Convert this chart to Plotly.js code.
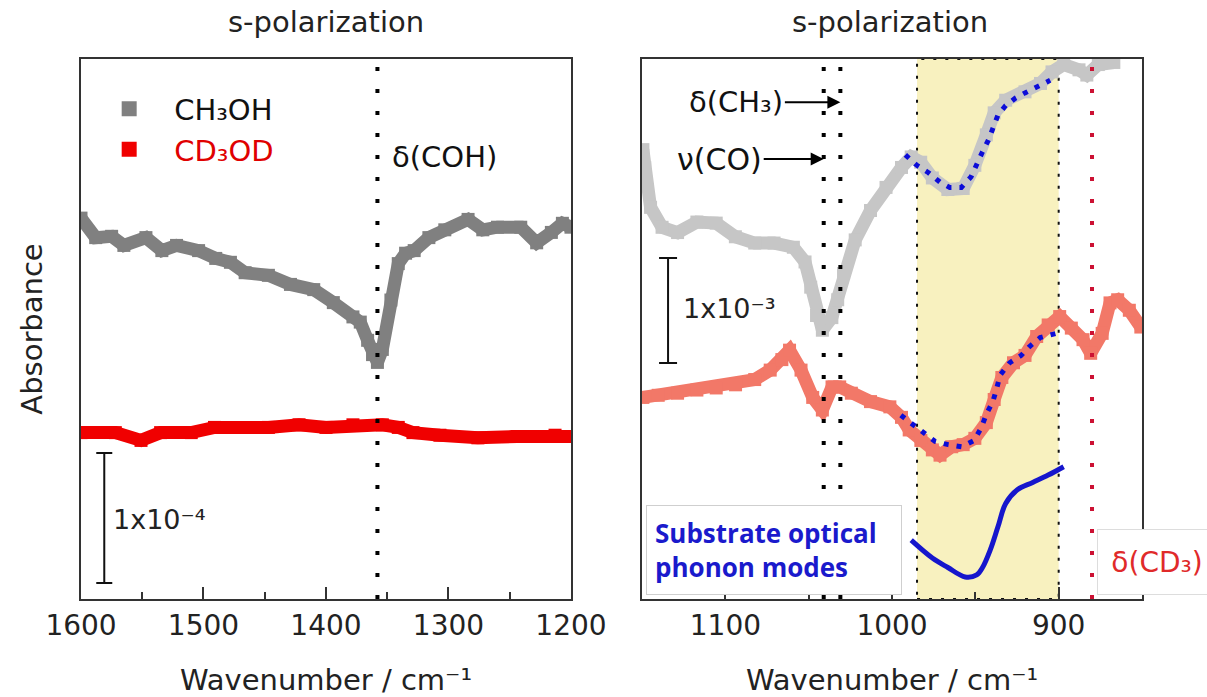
<!DOCTYPE html>
<html><head><meta charset="utf-8">
<script src="https://cdn.plot.ly/plotly-3.0.1.min.js"></script>
<style>html,body{margin:0;padding:0;background:#fff}#chart{width:1207px;height:697px}</style>
</head><body><div id="chart"></div>
<script>
// ---------- data (absorbance in units of 1e-4 for left panel, 1e-3 for right panel; offsets arbitrary) ----------
const leftCH3OHWn = [1600,1588,1575,1565,1547,1534,1522,1504,1490,1478,1466,1447,1429,1410,1394,1378,1372,1366,1362,1358,1354,1347,1341,1335,1328,1316,1303,1284,1272,1260,1241,1228,1216,1207,1200];
const leftCH3OH   = [2.93,2.78,2.79,2.72,2.78,2.68,2.72,2.68,2.62,2.59,2.51,2.49,2.42,2.38,2.28,2.17,2.13,1.99,1.88,1.82,1.92,2.30,2.58,2.66,2.68,2.78,2.84,2.92,2.84,2.86,2.86,2.74,2.82,2.89,2.86];
const leftCD3ODWn = [1600,1572,1551,1535,1510,1491,1447,1422,1400,1378,1354,1341,1329,1307,1276,1244,1213,1200];
const leftCD3OD   = [1.28,1.28,1.22,1.28,1.28,1.32,1.32,1.34,1.32,1.34,1.34,1.32,1.28,1.26,1.24,1.25,1.26,1.25];

const rightCH3OHWn = [1149.5,1148.4,1144.9,1138,1128.7,1117.1,1105.5,1094,1082.4,1070.8,1059.2,1052.2,1048.8,1045.3,1041.8,1036.1,1032.6,1029.1,1022.1,1012.9,1003.6,994.3,988.5,982.8,975.8,966.5,957.3,950.3,943.4,938.7,931.8,920.2,910.9,904,897,887.8,883.1,876.2,866.9];
const rightCH3OH   = [4.28,4.11,3.73,3.54,3.49,3.59,3.58,3.45,3.39,3.39,3.35,3.21,2.97,2.70,2.56,2.68,2.85,3.10,3.42,3.70,3.92,4.11,4.21,4.16,4.01,3.90,3.91,4.13,4.42,4.63,4.75,4.83,4.91,5.02,5.09,5.04,4.99,5.09,5.11];
const rightCD3ODWn = [1149.5,1140.3,1128.7,1117.1,1105.5,1093.9,1082.4,1073.1,1066.1,1061.5,1054.6,1047.6,1041.8,1036,1031.4,1024.4,1012.9,1001.3,994.3,989.7,982.7,975.8,971.2,964.2,957.3,950.3,943.4,938.7,934.1,927.1,920.2,913.2,906.3,899.4,892.4,885.4,880.8,873.9,869.2,864.6,857.6,850.7];
const rightCD3OD   = [1.92,1.94,1.96,1.99,2.01,2.04,2.09,2.18,2.28,2.37,2.18,1.92,1.80,2.02,2.02,1.96,1.88,1.83,1.73,1.61,1.51,1.42,1.37,1.45,1.47,1.53,1.68,1.90,2.11,2.25,2.32,2.50,2.61,2.69,2.58,2.47,2.34,2.53,2.82,2.85,2.75,2.59];

const fitCH3OHWn = [992.0,985.1,978.1,971.2,965.4,958.4,952.6,949.2,945.7,942.2,939.9,936.4,931.8,926.0,920.2,910.9,905.1];
const fitCH3OH   = [4.23,4.13,4.06,3.97,3.92,3.92,4.02,4.15,4.26,4.37,4.48,4.61,4.70,4.77,4.82,4.90,4.94];
const fitCD3ODWn = [994.7,988.1,981.5,974.1,966.3,958.1,950.7,946.5,943.1,939.5,937.1,935.2,929.4,922.5,917.8,911.1,901.5];
const fitCD3OD   = [1.75,1.67,1.58,1.50,1.47,1.45,1.51,1.63,1.77,1.88,2.01,2.13,2.25,2.32,2.40,2.49,2.53];

const phononWn = [988.5,975.8,966.5,956.1,949.2,945.7,941.0,936.4,931.8,924.8,915.6,906.3,897.0];
const phonon   = [0.56,0.39,0.30,0.21,0.23,0.30,0.47,0.69,0.91,1.04,1.11,1.18,1.26];

// band / mode positions (cm-1)
const modeCOH = 1358, modeCO = 1041, modeCH3 = 1031, modeCD3 = 880;
const phononBand = [985, 900];
// scale bars: [wavenumber, centre value, half-length]
const scaleLeft = [1581, 0.623, 0.5];   // 1x10^-4
const scaleRight = [1134.4, 2.748, 0.5]; // 1x10^-3

// ---------- styles ----------
const F = 'DejaVu Sans, Arial, sans-serif';
const grayL = '#808080', redL = '#f00000', grayR = '#c6c6c6', redR = '#f27868';
const blueDot = '#0c0cd8', blueSolid = '#1616cc';

function band(x, y, color, xa, ya, name) {
  return {x: x, y: y, xaxis: xa, yaxis: ya, mode: 'lines+markers', name: name, showlegend: false,
    line: {color: color, width: 13}, marker: {symbol: 'square', size: 13, color: color}, hoverinfo: 'skip'};
}

const data = [
  {x: [null], y: [null], xaxis: 'x', yaxis: 'y', mode: 'markers', name: 'CH₃OH',
   marker: {symbol: 'square', size: 15, color: grayL}},
  {x: [null], y: [null], xaxis: 'x', yaxis: 'y', mode: 'markers', name: '<span style="color:#e00000">CD₃OD</span>',
   marker: {symbol: 'square', size: 15, color: redL}},
  band(leftCH3OHWn, leftCH3OH, grayL, 'x', 'y', 'CH3OH'),
  band(leftCD3ODWn, leftCD3OD, redL, 'x', 'y', 'CD3OD'),
  band(rightCH3OHWn, rightCH3OH, grayR, 'x2', 'y2', 'CH3OH'),
  band(rightCD3ODWn, rightCD3OD, redR, 'x2', 'y2', 'CD3OD'),
  {x: fitCH3OHWn, y: fitCH3OH, xaxis: 'x2', yaxis: 'y2', mode: 'lines', showlegend: false, hoverinfo: 'skip',
   line: {color: blueDot, width: 5, dash: '5px,8px'}},
  {x: fitCD3ODWn, y: fitCD3OD, xaxis: 'x2', yaxis: 'y2', mode: 'lines', showlegend: false, hoverinfo: 'skip',
   line: {color: blueDot, width: 5, dash: '5px,8px'}},
  {x: phononWn, y: phonon, xaxis: 'x2', yaxis: 'y2', mode: 'lines', showlegend: false, hoverinfo: 'skip',
   line: {color: blueSolid, width: 5, shape: 'spline'}},
  {x: [scaleLeft[0]], y: [scaleLeft[1]], xaxis: 'x', yaxis: 'y', mode: 'markers', showlegend: false, hoverinfo: 'skip',
   marker: {color: 'rgba(0,0,0,0)', size: 1},
   error_y: {type: 'data', array: [scaleLeft[2]], symmetric: true, color: '#111', thickness: 2, width: 8}},
  {x: [scaleRight[0]], y: [scaleRight[1]], xaxis: 'x2', yaxis: 'y2', mode: 'markers', showlegend: false, hoverinfo: 'skip',
   marker: {color: 'rgba(0,0,0,0)', size: 1},
   error_y: {type: 'data', array: [scaleRight[2]], symmetric: true, color: '#111', thickness: 2, width: 9}}
];

const axX = {
  ticks: 'inside', ticklen: 12, tickwidth: 2, tickcolor: '#333', dtick: 100,
  minor: {dtick: 50, ticks: 'inside', ticklen: 7, tickwidth: 2, tickcolor: '#333'},
  showline: true, mirror: true, linecolor: '#333', linewidth: 2, showgrid: false, zeroline: false,
  tickfont: {family: F, size: 28, color: '#222'},
  title: {text: 'Wavenumber / cm⁻¹', font: {family: F, size: 29, color: '#222'}, standoff: 32}
};
const axY = {showticklabels: false, ticks: '', showline: true, mirror: true, linecolor: '#333', linewidth: 2,
  showgrid: false, zeroline: false};

const vline = (xa, x, color) => ({type: 'line', xref: xa, yref: (xa === 'x' ? 'y' : 'y2') + ' domain', x0: x, x1: x, y0: 0, y1: 1,
  line: {color: color, width: 4, dash: '4px,18px'}, layer: 'above'});

const layout = {
  width: 1207, height: 697,
  margin: {l: 81, r: 65, t: 59, b: 98},
  paper_bgcolor: '#fff', plot_bgcolor: '#fff',
  showlegend: true,
  legend: {x: 0.003, y: 0.955, xanchor: 'left', yanchor: 'top', bgcolor: 'rgba(0,0,0,0)', itemwidth: 80,
    font: {family: F, size: 29, color: '#111'}},
  xaxis: Object.assign({}, axX, {domain: [0, 0.4618], range: [1600, 1200], anchor: 'y'}),
  xaxis2: Object.assign({}, axX, {domain: [0.5288, 1], range: [1150, 850], anchor: 'y2'}),
  yaxis: Object.assign({}, axY, {range: [0, 4.154], anchor: 'x',
    title: {text: 'Absorbance', font: {family: F, size: 29, color: '#222'}, standoff: 28}}),
  yaxis2: Object.assign({}, axY, {range: [0, 5.143], anchor: 'x2'}),
  shapes: [
    {type: 'rect', xref: 'x2', yref: 'y2 domain', x0: phononBand[0], x1: phononBand[1], y0: 0, y1: 1,
     fillcolor: '#f8f1bf', line: {color: '#111', width: 2, dash: '3px,9px'}, layer: 'below'},
    vline('x', modeCOH, '#000'),
    vline('x2', modeCO, '#000'),
    vline('x2', modeCH3, '#000'),
    vline('x2', modeCD3, '#cc1133')
  ],
  annotations: [
    {xref: 'paper', yref: 'paper', x: 0.2309, y: 1.0685, text: 's-polarization', showarrow: false,
     font: {family: F, size: 29, color: '#222'}, xanchor: 'center', yanchor: 'middle'},
    {xref: 'paper', yref: 'paper', x: 0.7625, y: 1.0685, text: 's-polarization', showarrow: false,
     font: {family: F, size: 29, color: '#222'}, xanchor: 'center', yanchor: 'middle'},
    {xref: 'x', yref: 'y', x: 1348, y: 3.40, text: 'δ(COH)', showarrow: false, xanchor: 'left',
     font: {family: F, size: 29, color: '#111'}},
    {xref: 'x', yref: 'y', x: 1575.5, y: 0.608, text: '1x10⁻⁴', showarrow: false, xanchor: 'left',
     font: {family: F, size: 27, color: '#222'}},
    {xref: 'x2', yref: 'y2', x: 1126.6, y: 2.77, text: '1x10⁻³', showarrow: false, xanchor: 'left',
     font: {family: F, size: 27, color: '#222'}},
    {xref: 'x2', yref: 'y2', x: modeCH3, y: 4.73, ax: -104, ay: 0, text: 'δ(CH₃)', showarrow: true,
     arrowhead: 2, arrowsize: 1.3, arrowwidth: 2, arrowcolor: '#000', font: {family: F, size: 29, color: '#111'}},
    {xref: 'x2', yref: 'y2', x: modeCO, y: 4.19, ax: -104, ay: 0, text: 'ν(CO)', showarrow: true,
     arrowhead: 2, arrowsize: 1.3, arrowwidth: 2, arrowcolor: '#000', font: {family: F, size: 30, color: '#111'}},
    {xref: 'paper', yref: 'paper', x: 0.5325, y: 0.174, xanchor: 'left', yanchor: 'top', showarrow: false,
     text: '<b>Substrate optical<br>phonon modes</b>', align: 'left', valign: 'middle',
     font: {family: 'Open Sans, Noto Sans, sans-serif', size: 26, color: '#1a1acc'},
     bgcolor: '#fff', bordercolor: '#cfcfcf', borderwidth: 1, borderpad: 8, width: 238, height: 72},
    {xref: 'paper', yref: 'paper', x: 0.9576, y: 0.1296, xanchor: 'left', yanchor: 'top', showarrow: false,
     text: 'δ(CD₃)', align: 'center', valign: 'middle',
     font: {family: F, size: 28, color: '#e02a2a'},
     bgcolor: '#fff', bordercolor: '#dddddd', borderwidth: 1, borderpad: 3, width: 112, height: 58}
  ]
};

Plotly.newPlot('chart', data, layout, {staticPlot: true});
</script></body></html>
